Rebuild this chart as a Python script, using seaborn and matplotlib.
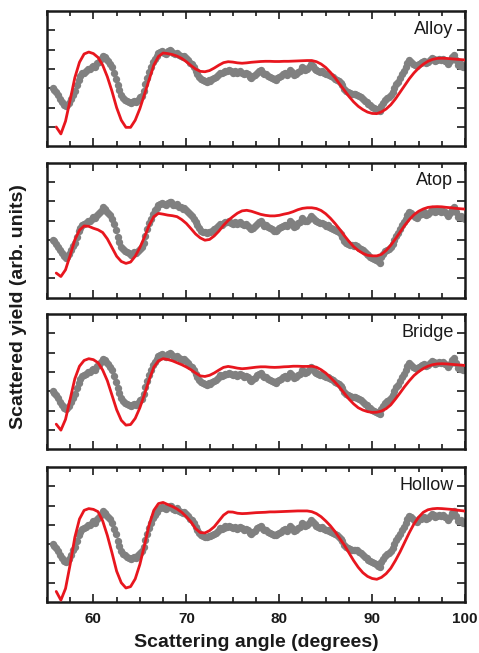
import numpy as np
import matplotlib
matplotlib.use("Agg")
import matplotlib.pyplot as plt
import pandas as pd
import seaborn as sns
from matplotlib.ticker import MultipleLocator

# experimental points (same in every panel), 0.2 deg apart starting at 55.6
exp_start = 55.6
exp_step = 0.2
exp_y = [3.0, 2.92, 2.8, 2.65, 2.45, 2.3, 2.15, 2.08, 2.12, 2.25,
         2.45, 2.68, 2.85, 3.15, 3.45, 3.62, 3.78, 3.82, 3.88, 3.98,
         4.0, 4.08, 4.18, 4.12, 4.3, 4.38, 4.5, 4.7, 4.62, 4.5,
         4.4, 4.28, 4.1, 3.8, 3.5, 3.15, 2.9, 2.65, 2.5, 2.42,
         2.35, 2.3, 2.22, 2.28, 2.35, 2.3, 2.42, 2.55, 2.62, 2.85,
         3.2, 3.55, 3.85, 4.1, 4.35, 4.52, 4.65, 4.82, 4.88, 4.92,
         4.85, 4.8, 4.92, 4.98, 4.95, 4.82, 4.78, 4.85, 4.72, 4.68,
         4.62, 4.65, 4.55, 4.45, 4.32, 4.25, 4.1, 3.9, 3.75, 3.6,
         3.48, 3.42, 3.38, 3.35, 3.42, 3.4, 3.48, 3.55, 3.6, 3.7,
         3.82, 3.78, 3.85, 3.92, 3.9, 3.95, 3.88, 3.82, 3.9, 3.8,
         3.85, 3.9, 3.82, 3.75, 3.8, 3.72, 3.6, 3.55, 3.62, 3.7,
         3.82, 3.9, 3.95, 3.8, 3.72, 3.75, 3.65, 3.6, 3.55, 3.48,
         3.45, 3.52, 3.6, 3.65, 3.72, 3.78, 3.7, 3.82, 3.95, 3.85,
         3.68, 3.72, 3.85, 3.9, 4.12, 4.05, 3.95, 4.0, 4.1, 4.25,
         4.15, 4.02, 3.95, 3.9, 3.85, 3.88, 3.8, 3.72, 3.75, 3.68,
         3.62, 3.58, 3.5, 3.45, 3.38, 3.28, 3.15, 2.95, 2.85, 2.8,
         2.75, 2.72, 2.7, 2.72, 2.68, 2.6, 2.55, 2.45, 2.35, 2.28,
         2.2, 2.12, 2.05, 2.0, 1.95, 1.88, 1.82, 2.1, 2.25, 2.4,
         2.48, 2.55, 2.65, 2.8, 3.0, 3.2, 3.35, 3.55, 3.75, 3.9,
         4.1, 4.3, 4.45, 4.38, 4.28, 4.2, 4.15, 4.28, 4.32, 4.35,
         4.42, 4.3, 4.35, 4.45, 4.58, 4.5, 4.42, 4.48, 4.52, 4.45,
         4.5, 4.42, 4.35, 4.25, 4.4, 4.6, 4.72, 4.45, 4.2, 4.18,
         4.25, 4.12, 4.08]

# simulated curves, 0.5 deg apart from 56 to 100
sim_start = 56.0
sim_step = 0.5
alloy = [1.0, 0.64, 1.3, 2.4, 3.55, 4.35, 4.78, 4.88, 4.8, 4.6,
         4.2, 3.6, 2.85, 2.0, 1.35, 0.98, 0.98, 1.35, 1.95, 2.7,
         3.45, 4.2, 4.65, 4.83, 4.8, 4.75, 4.67, 4.55, 4.38, 4.18,
         4.0, 3.88, 3.86, 3.92, 4.05, 4.2, 4.33, 4.38, 4.36, 4.32,
         4.3, 4.32, 4.35, 4.37, 4.39, 4.4, 4.4, 4.39, 4.39, 4.4,
         4.4, 4.41, 4.42, 4.43, 4.44, 4.44, 4.38, 4.26, 4.08, 3.83,
         3.55, 3.22, 2.9, 2.58, 2.3, 2.07, 1.9, 1.77, 1.7, 1.69,
         1.78, 1.93, 2.15, 2.45, 2.8, 3.15, 3.5, 3.8, 4.05, 4.25,
         4.4, 4.5, 4.55, 4.56, 4.55, 4.53, 4.51, 4.49, 4.47]
atop = [1.28, 1.1, 1.45, 2.2, 3.0, 3.5, 3.72, 3.7, 3.6, 3.52,
        3.38, 3.05, 2.6, 2.15, 1.88, 1.78, 1.85, 2.15, 2.6, 3.15,
        3.75, 4.2, 4.37, 4.33, 4.28, 4.25, 4.2, 4.05, 3.85, 3.58,
        3.3, 3.1, 2.98, 3.02, 3.2, 3.45, 3.75, 4.0, 4.2, 4.38,
        4.5, 4.53, 4.48, 4.4, 4.32, 4.27, 4.24, 4.24, 4.27, 4.33,
        4.38, 4.46, 4.56, 4.63, 4.66, 4.66, 4.62, 4.52, 4.35, 4.12,
        3.85, 3.55, 3.22, 2.92, 2.65, 2.45, 2.3, 2.2, 2.17, 2.17,
        2.25, 2.45, 2.72, 3.05, 3.4, 3.75, 4.05, 4.3, 4.48, 4.6,
        4.68, 4.71, 4.72, 4.71, 4.68, 4.66, 4.63, 4.61, 4.59]
bridge = [1.3, 0.99, 1.55, 2.6, 3.65, 4.3, 4.6, 4.69, 4.64, 4.48,
          4.1, 3.55, 2.8, 2.05, 1.5, 1.25, 1.28, 1.6, 2.15, 2.85,
          3.6, 4.25, 4.58, 4.69, 4.65, 4.58, 4.48, 4.38, 4.26, 4.12,
          3.95, 3.8, 3.77, 3.83, 3.95, 4.1, 4.24, 4.29, 4.25, 4.2,
          4.17, 4.19, 4.22, 4.25, 4.27, 4.27, 4.25, 4.24, 4.25, 4.27,
          4.28, 4.3, 4.3, 4.29, 4.29, 4.3, 4.25, 4.12, 3.95, 3.72,
          3.47, 3.2, 2.9, 2.6, 2.35, 2.15, 2.03, 1.95, 1.91, 1.92,
          1.98, 2.1, 2.3, 2.6, 2.92, 3.25, 3.55, 3.82, 4.02, 4.18,
          4.3, 4.38, 4.42, 4.43, 4.42, 4.4, 4.38, 4.36, 4.34]
hollow = [0.55, 0.1, 0.7, 1.95, 3.35, 4.3, 4.75, 4.84, 4.8, 4.68,
          4.2, 3.45, 2.55, 1.6, 1.0, 0.73, 0.8, 1.2, 1.95, 2.95,
          4.0, 4.75, 5.1, 5.16, 5.05, 4.95, 4.82, 4.65, 4.42, 4.15,
          3.8, 3.6, 3.58, 3.7, 3.9, 4.2, 4.5, 4.67, 4.66, 4.6,
          4.58, 4.59, 4.61, 4.63, 4.64, 4.65, 4.67, 4.67, 4.68, 4.69,
          4.7, 4.71, 4.72, 4.72, 4.72, 4.68, 4.58, 4.42, 4.2, 3.95,
          3.65, 3.3, 2.95, 2.55, 2.15, 1.8, 1.52, 1.33, 1.22, 1.18,
          1.28, 1.47, 1.75, 2.15, 2.6, 3.1, 3.6, 4.05, 4.4, 4.65,
          4.78, 4.83, 4.85, 4.84, 4.82, 4.8, 4.77, 4.74, 4.71]

labels = ["Alloy", "Atop", "Bridge", "Hollow"]
sims = [alloy, atop, bridge, hollow]

sns.set_style("ticks")
plt.rcParams["font.family"] = ["Liberation Sans", "DejaVu Sans"]

exp_df = pd.DataFrame({"angle": exp_start + exp_step * np.arange(len(exp_y)),
                       "yield": exp_y})

fig = plt.figure(figsize=(4.79, 6.53), dpi=100)
bottoms = [0.776, 0.544, 0.312, 0.078]
axes = [fig.add_axes([0.098, b, 0.873, 0.207]) for b in bottoms]

for ax, lab, sim in zip(axes, labels, sims):
    sim_df = pd.DataFrame({"angle": sim_start + sim_step * np.arange(len(sim)),
                           "yield": sim})
    sns.scatterplot(data=exp_df, x="angle", y="yield", ax=ax, color="#808080",
                    s=28, linewidth=0, zorder=2)
    sns.lineplot(data=sim_df, x="angle", y="yield", ax=ax, color="#e8161e",
                 linewidth=2.0, zorder=3)
    ax.set_xlim(55, 100)
    ax.set_ylim(0, 7)
    ax.xaxis.set_major_locator(MultipleLocator(10))
    ax.xaxis.set_minor_locator(MultipleLocator(2.5))
    ax.set_yticks([1, 2, 3, 4, 5, 6])
    ax.tick_params(which="both", direction="in", top=True, right=True,
                   width=1.2, color="#1a1a1a")
    ax.tick_params(which="major", length=5.5)
    ax.tick_params(which="minor", length=3.5)
    ax.set_yticklabels([])
    ax.set_xlabel("")
    ax.set_ylabel("")
    for sp in ax.spines.values():
        sp.set_linewidth(1.8)
        sp.set_color("#1a1a1a")
    ax.text(0.972, 0.865, lab, transform=ax.transAxes, ha="right", va="center",
            fontsize=13, color="#1a1a1a")
    if ax is not axes[-1]:
        ax.set_xticklabels([])
    else:
        ax.tick_params(axis="x", which="major", pad=7, labelsize=11,
                       labelcolor="#1a1a1a")
        for t in ax.get_xticklabels():
            t.set_fontweight("bold")

fig.text(0.535, 0.009, "Scattering angle (degrees)", ha="center", va="baseline",
         fontsize=14, fontweight="bold", color="#1a1a1a")
fig.text(0.038, 0.53, "Scattered yield (arb. units)", ha="center", va="center",
         rotation=90, fontsize=14, fontweight="bold", color="#1a1a1a")

fig.savefig("out.png", dpi=100)
